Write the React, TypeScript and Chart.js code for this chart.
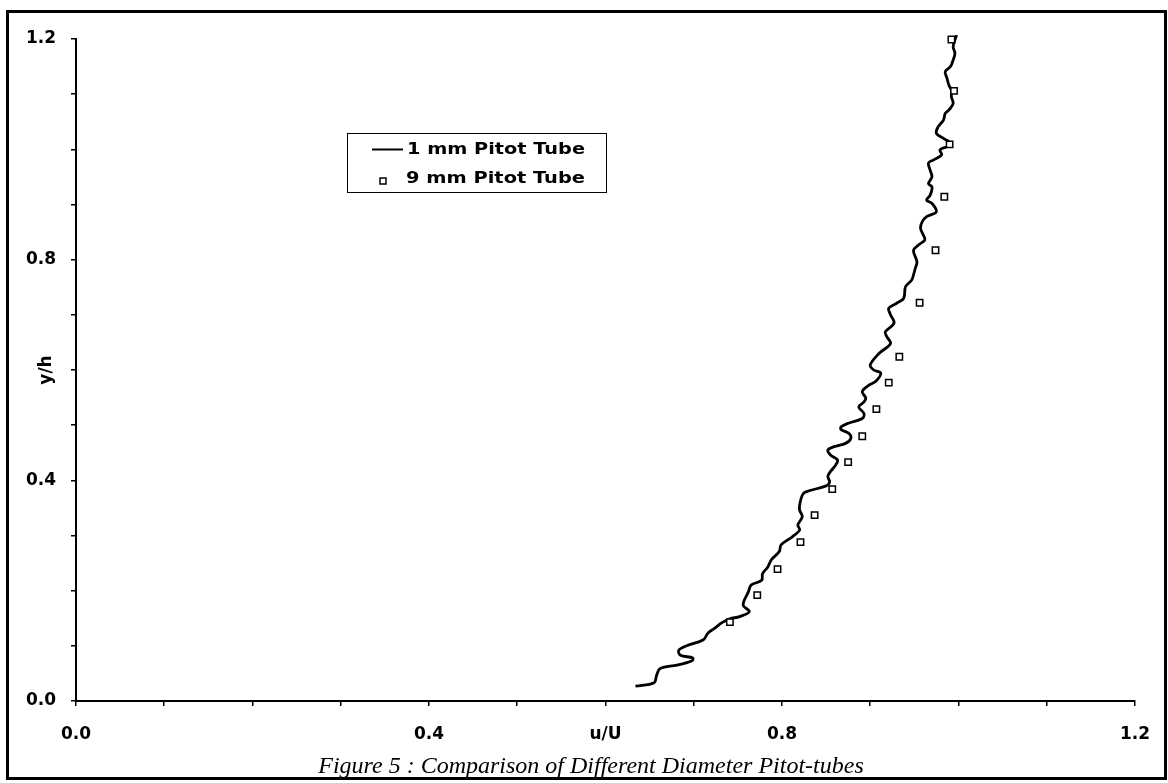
import React, { useEffect, useRef } from "react";
import { Chart, registerables } from "chart.js";

Chart.register(...registerables);

// ---- Data ----
// 1 mm Pitot tube: continuous traverse, u/U and y/h
const tube1U = [
  0.634, 0.655, 0.658, 0.662, 0.681, 0.698, 0.699, 0.685, 0.683, 0.692,
  0.711, 0.716, 0.724, 0.732, 0.741, 0.752, 0.763, 0.756, 0.762, 0.765,
  0.777, 0.778, 0.784, 0.788, 0.797, 0.799, 0.812, 0.820, 0.818, 0.823,
  0.820, 0.820, 0.823, 0.827, 0.850, 0.854, 0.852, 0.855, 0.861, 0.863,
  0.855, 0.852, 0.859, 0.872, 0.878, 0.876, 0.867, 0.867, 0.876, 0.891,
  0.893, 0.887, 0.893, 0.895, 0.891, 0.899, 0.906, 0.912, 0.904, 0.900,
  0.910, 0.923, 0.919, 0.917, 0.927, 0.923, 0.921, 0.930, 0.938, 0.940,
  0.947, 0.949, 0.951, 0.953, 0.949, 0.955, 0.962, 0.960, 0.957, 0.959,
  0.964, 0.975, 0.970, 0.964, 0.968, 0.970, 0.966, 0.970, 0.968, 0.966,
  0.972, 0.981, 0.979, 0.987, 0.991, 0.983, 0.975, 0.977, 0.983, 0.985,
  0.989, 0.994, 0.992, 0.992, 0.989, 0.987, 0.985, 0.991, 0.994, 0.996,
  0.994, 0.996, 0.998,
];
const tube1Y = [
  0.027, 0.033, 0.047, 0.059, 0.065, 0.073, 0.078, 0.083, 0.092, 0.100,
  0.111, 0.123, 0.132, 0.142, 0.149, 0.153, 0.162, 0.174, 0.198, 0.210,
  0.219, 0.231, 0.243, 0.256, 0.271, 0.283, 0.298, 0.310, 0.319, 0.334,
  0.346, 0.355, 0.373, 0.379, 0.390, 0.397, 0.407, 0.416, 0.428, 0.437,
  0.446, 0.455, 0.461, 0.467, 0.476, 0.485, 0.492, 0.497, 0.504, 0.512,
  0.521, 0.533, 0.542, 0.549, 0.561, 0.573, 0.579, 0.594, 0.600, 0.609,
  0.630, 0.648, 0.660, 0.669, 0.685, 0.700, 0.712, 0.721, 0.730, 0.751,
  0.763, 0.772, 0.784, 0.796, 0.817, 0.827, 0.836, 0.845, 0.857, 0.869,
  0.878, 0.887, 0.902, 0.908, 0.917, 0.932, 0.938, 0.950, 0.962, 0.975,
  0.981, 0.990, 0.999, 1.005, 1.011, 1.020, 1.029, 1.041, 1.053, 1.065,
  1.071, 1.083, 1.095, 1.107, 1.117, 1.129, 1.141, 1.150, 1.162, 1.174,
  1.186, 1.198, 1.207,
];

// 9 mm Pitot tube: discrete measurements
const tube9U = [
  0.741, 0.772, 0.795, 0.821, 0.837, 0.857, 0.875, 0.891, 0.907, 0.921,
  0.933, 0.956, 0.974, 0.984, 0.990, 0.995, 0.992,
];
const tube9Y = [
  0.143, 0.192, 0.239, 0.288, 0.337, 0.384, 0.433, 0.480, 0.529, 0.577,
  0.624, 0.722, 0.817, 0.914, 1.009, 1.106, 1.199,
];

const seriesLabels = ["1 mm Pitot Tube", "9 mm Pitot Tube"];
const xLabelledTicks = [0, 0.4, 0.8, 1.2];
const yLabelledTicks = [0, 0.4, 0.8, 1.2];
const xAxisName = "u/U";
const xAxisNameAt = 0.6;
const yAxisName = "y/h";
const figureCaption = "Figure 5 : Comparison of Different Diameter Pitot-tubes";

const tickFont = { family: "'DejaVu Sans', sans-serif", weight: "bold" as const, size: 17 };

const isAt = (v: number, list: number[]) => list.some((t) => Math.abs(t - v) < 1e-6);

const framePlugin = {
  id: "frame",
  beforeDraw(chart: any) {
    const ctx = chart.ctx;
    ctx.save();
    ctx.fillStyle = "#fff";
    ctx.fillRect(0, 0, chart.width, chart.height);
    ctx.strokeStyle = "#000";
    ctx.lineWidth = 3;
    ctx.strokeRect(7.5, 11.5, 1158, 767);
    ctx.restore();
  },
};

const boxLegendPlugin = {
  id: "boxLegend",
  afterDraw(chart: any) {
    const ctx = chart.ctx;
    const ds = chart.data.datasets;
    const lineDs = ds.find((d: any) => d.showLine);
    const ptDs = ds.find((d: any) => !d.showLine);
    ctx.save();
    ctx.fillStyle = "#fff";
    ctx.fillRect(347.5, 133.5, 259, 59);
    ctx.strokeStyle = "#000";
    ctx.lineWidth = 1;
    ctx.strokeRect(347.5, 133.5, 259, 59);
    // line sample
    ctx.lineWidth = 2;
    ctx.strokeStyle = lineDs.borderColor;
    ctx.beginPath();
    ctx.moveTo(372, 149.5);
    ctx.lineTo(403, 149.5);
    ctx.stroke();
    // square sample
    ctx.lineWidth = 1.5;
    ctx.strokeStyle = ptDs.borderColor;
    ctx.fillStyle = "#fff";
    ctx.fillRect(380, 178, 6, 6);
    ctx.strokeRect(380, 178, 6, 6);
    // texts
    ctx.fillStyle = "#000";
    ctx.font = "bold 16px 'DejaVu Sans'";
    ctx.textBaseline = "middle";
    ctx.textAlign = "left";
    const drawStretched = (text: string, x: number, y: number, w: number) => {
      const m = ctx.measureText(text).width;
      ctx.save();
      ctx.translate(x, y);
      ctx.scale(w / m, 1);
      ctx.fillText(text, 0, 0);
      ctx.restore();
    };
    drawStretched(lineDs.label, 407, 150, 178);
    drawStretched(ptDs.label, 406, 178.5, 179);
    ctx.restore();
  },
};

export default function App() {
  const canvasRef = useRef<HTMLCanvasElement | null>(null);

  useEffect(() => {
    if (!canvasRef.current) return;
    const chart = new Chart(canvasRef.current, {
      type: "scatter",
      data: {
        datasets: [
          {
            label: seriesLabels[1],
            data: tube9U.map((u, i) => ({ x: u, y: tube9Y[i] })),
            showLine: false,
            pointStyle: "rect",
            pointRadius: 4.5,
            pointBorderWidth: 1.5,
            pointBackgroundColor: "#fff",
            pointBorderColor: "#000",
            borderColor: "#000",
            backgroundColor: "#fff",
            clip: false,
          },
          {
            label: seriesLabels[0],
            data: tube1U.map((u, i) => ({ x: u, y: tube1Y[i] })),
            showLine: true,
            borderColor: "#000",
            borderWidth: 2.8,
            pointRadius: 0,
            tension: 0.35,
            clip: false,
          },
        ],
      },
      options: {
        responsive: false,
        animation: false,
        events: [],
        layout: { padding: { left: 20, right: 6, top: 39, bottom: 2 } },
        plugins: {
          legend: { display: false },
          tooltip: { enabled: false },
          title: {
            display: true,
            position: "bottom",
            text: figureCaption,
            color: "#000",
            padding: 0,
            font: { family: "'Liberation Serif', serif", style: "italic", weight: "normal", size: 24, lineHeight: 1.2 },
          },
        },
        scales: {
          x: {
            type: "linear",
            min: 0,
            max: 1.2,
            afterFit: (s: any) => {
              s.height = 51.2;
            },
            border: { display: true, color: "#000", width: 2 },
            grid: { display: true, drawOnChartArea: false, drawTicks: true, tickLength: 5, color: "#000", lineWidth: 1.5 },
            ticks: {
              stepSize: 0.1,
              autoSkip: false,
              maxRotation: 0,
              padding: 18,
              color: "#000",
              font: tickFont,
              callback: (v: any) => {
                const n = Number(v);
                if (isAt(n, xLabelledTicks)) return n.toFixed(1);
                if (Math.abs(n - xAxisNameAt) < 1e-6) return xAxisName;
                return "";
              },
            },
          },
          y: {
            type: "linear",
            min: 0,
            max: 1.2,
            afterFit: (s: any) => {
              s.width = 56;
            },
            border: { display: true, color: "#000", width: 2 },
            grid: { display: true, drawOnChartArea: false, drawTicks: true, tickLength: 5, color: "#000", lineWidth: 1.5 },
            title: {
              display: true,
              text: yAxisName,
              color: "#000",
              padding: { top: 16.5, bottom: 0 },
              font: { ...tickFont, lineHeight: 1.2 },
            },
            ticks: {
              stepSize: 0.1,
              autoSkip: false,
              padding: 15,
              color: "#000",
              font: tickFont,
              callback: (v: any) => {
                const n = Number(v);
                return isAt(n, yLabelledTicks) ? n.toFixed(1) : "";
              },
            },
          },
          // empty right-hand spacer so the caption sits where it does in the figure
          spacer: {
            type: "linear",
            position: "right",
            display: true,
            afterFit: (s: any) => {
              s.width = 20;
            },
            border: { display: false },
            grid: { display: false, drawTicks: false },
            ticks: { display: false },
          },
        },
      },
      plugins: [framePlugin, boxLegendPlugin],
    } as any);
    return () => chart.destroy();
  }, []);

  return (
    <div style={{ position: "absolute", left: 0, top: 0, width: 1168, height: 783, background: "#fff" }}>
      <canvas ref={canvasRef} width={1168} height={783} style={{ display: "block" }} />
    </div>
  );
}
